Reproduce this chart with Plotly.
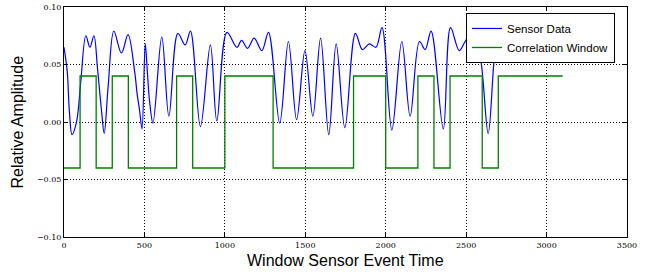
import plotly.graph_objects as go

# Sensor data
sensor_x = [0, 20, 33, 50, 79, 103, 136, 161, 186, 208, 233, 250, 274, 310, 357, 398, 439, 455, 470, 485,
            505, 518, 532, 553, 608, 652, 708, 753, 786, 848, 910, 950, 1013, 1075, 1104, 1141, 1182,
            1230, 1271, 1341, 1395, 1446, 1498, 1547, 1595, 1646, 1692, 1746, 1812, 1855, 1898, 1939,
            1977, 2038, 2100, 2152, 2210, 2245, 2282, 2358, 2403, 2457, 2490, 2535, 2585, 2637, 2678, 2700]
sensor_y = [0.065, 0.044, 0.010, -0.011, 0.001, 0.033, 0.075, 0.065, 0.075, 0.047, 0.010, -0.010, 0.030,
            0.079, 0.060, 0.076, 0.044, 0.024, 0.010, -0.006, 0.068, 0.044, 0.018, -0.001, 0.074, 0.005,
            0.077, 0.067, 0.079, -0.004, 0.067, 0.001, 0.078, 0.065, 0.071, 0.064, 0.073, 0.062, 0.078,
            -0.001, 0.070, 0.002, 0.062, 0.005, 0.073, -0.011, 0.068, -0.005, 0.077, 0.063, 0.068, 0.065,
            0.082, -0.007, 0.070, 0.005, 0.070, 0.063, 0.079, -0.006, 0.082, 0.062, 0.069, 0.078, 0.059,
            -0.010, 0.059, 0.072]

# Correlation window (step function)
window_x = [0, 100, 100, 200, 200, 300, 300, 400, 400, 700, 700, 800, 800, 1000, 1000, 1300, 1300,
            1800, 1800, 2000, 2000, 2200, 2200, 2300, 2300, 2400, 2400, 2600, 2600, 2700, 2700, 3100]
window_y = [-0.04, -0.04, 0.04, 0.04, -0.04, -0.04, 0.04, 0.04, -0.04, -0.04, 0.04, 0.04, -0.04, -0.04,
            0.04, 0.04, -0.04, -0.04, 0.04, 0.04, -0.04, -0.04, 0.04, 0.04, -0.04, -0.04, 0.04, 0.04,
            -0.04, -0.04, 0.04, 0.04]

x_ticks = [0, 500, 1000, 1500, 2000, 2500, 3000, 3500]
y_ticks = [-0.10, -0.05, 0.00, 0.05, 0.10]
y_tick_labels = ["\u22120.10", "\u22120.05", "0.00", "0.05", "0.10"]

fig = go.Figure()
fig.add_trace(go.Scatter(x=sensor_x, y=sensor_y, mode="lines", name="Sensor Data",
                         line=dict(color="#0000ff", width=1.2, shape="spline", smoothing=1.0)))
fig.add_trace(go.Scatter(x=window_x, y=window_y, mode="lines", name="Correlation Window",
                         line=dict(color="#008000", width=1.3)))

axis_common = dict(showline=True, linecolor="black", linewidth=1, mirror="ticks",
                   ticks="inside", ticklen=4, tickcolor="black", tickwidth=1,
                   showgrid=True, gridcolor="black", gridwidth=1, griddash="1px,2px",
                   zeroline=False, automargin=False,
                   tickfont=dict(family="DejaVu Serif", size=8, color="black"))

fig.update_xaxes(range=[0, 3500], tickvals=x_ticks, ticklabelstandoff=0,
                 **axis_common)
fig.update_yaxes(range=[-0.10, 0.10], tickvals=y_ticks, ticktext=y_tick_labels,
                 **axis_common)

fig.update_layout(
    width=650, height=273,
    margin=dict(l=64, r=23, t=7, b=36, autoexpand=False),
    plot_bgcolor="white", paper_bgcolor="white",
    showlegend=True,
    legend=dict(x=0.714, y=0.974, xanchor="left", yanchor="top",
                bgcolor="white", bordercolor="black", borderwidth=1,
                font=dict(family="Liberation Sans", size=11.5, color="black"),
                tracegroupgap=0, itemwidth=30),
    annotations=[
        dict(text="Window Sensor Event Time", xref="paper", yref="paper", x=0.5, y=-0.057,
             xanchor="center", yanchor="top", showarrow=False,
             font=dict(family="Liberation Sans", size=16, color="black")),
        dict(text="Relative Amplitude", xref="paper", yref="paper", x=-0.064, y=0.5,
             xanchor="right", yanchor="middle", textangle=-90, showarrow=False,
             font=dict(family="Liberation Sans", size=16, color="black")),
    ],
)

fig.write_html("out.html", config={"displayModeBar": False},
               post_script="document.body.style.margin='0';")
